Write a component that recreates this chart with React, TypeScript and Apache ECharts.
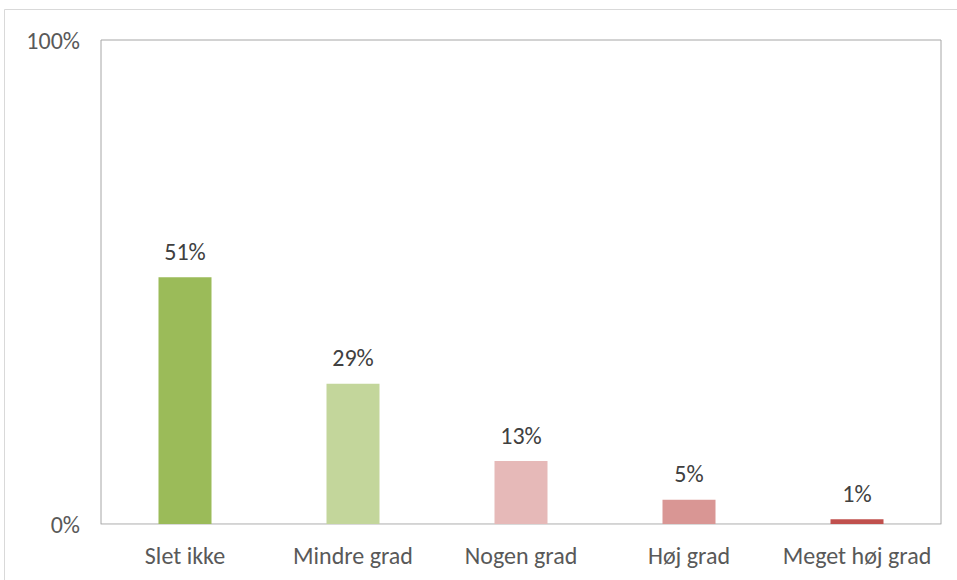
import React, { useEffect, useRef } from "react";
import * as echarts from "echarts";

const categories = ["Slet ikke", "Mindre grad", "Nogen grad", "Høj grad", "Meget høj grad"];
const values = [51, 29, 13, 5, 1];
const barColors = ["#9BBB59", "#C3D69B", "#E6B9B8", "#D99694", "#C0504D"];
const yTicks = [0, 100];

export default function App() {
  const ref = useRef<HTMLDivElement>(null);
  useEffect(() => {
    const chart = echarts.init(ref.current!, undefined, { renderer: "svg" });
    const font = "Carlito, Lato, sans-serif";
    chart.setOption({
      animation: false,
      backgroundColor: "#ffffff",
      graphic: [
        {
          type: "rect",
          shape: { x: 4.5, y: 9.5, width: 970, height: 600 },
          style: { fill: "none", stroke: "#d9d9d9", lineWidth: 1 },
          silent: true,
        },
      ],
      grid: {
        left: 101,
        top: 40,
        width: 840,
        height: 484,
        show: true,
        borderColor: "#a6a6a6",
        borderWidth: 1,
        backgroundColor: "transparent",
      },
      xAxis: {
        type: "category",
        data: categories,
        axisLine: { show: true, lineStyle: { color: "#d9d9d9", width: 1 } },
        axisTick: { show: false },
        axisLabel: { color: "#595959", fontSize: 24, fontFamily: font, margin: 19, interval: 0 },
      },
      yAxis: {
        type: "value",
        min: yTicks[0],
        max: yTicks[yTicks.length - 1],
        interval: 100,
        splitLine: { show: false },
        axisLine: { show: false },
        axisTick: { show: false },
        axisLabel: {
          color: "#595959",
          fontSize: 24,
          fontFamily: font,
          margin: 21,
          formatter: "{value}%",
        },
      },
      series: [
        {
          type: "bar",
          barWidth: 53,
          data: values.map((v, i) => ({ value: v, itemStyle: { color: barColors[i] } })),
          label: {
            show: true,
            position: "top",
            distance: 14,
            color: "#404040",
            fontSize: 24,
            fontFamily: font,
            formatter: "{c}%",
          },
        },
      ],
    });
    return () => chart.dispose();
  }, []);
  return (
    <div
      ref={ref}
      style={{ position: "absolute", left: 0, top: 0, width: 957, height: 580 }}
    />
  );
}
